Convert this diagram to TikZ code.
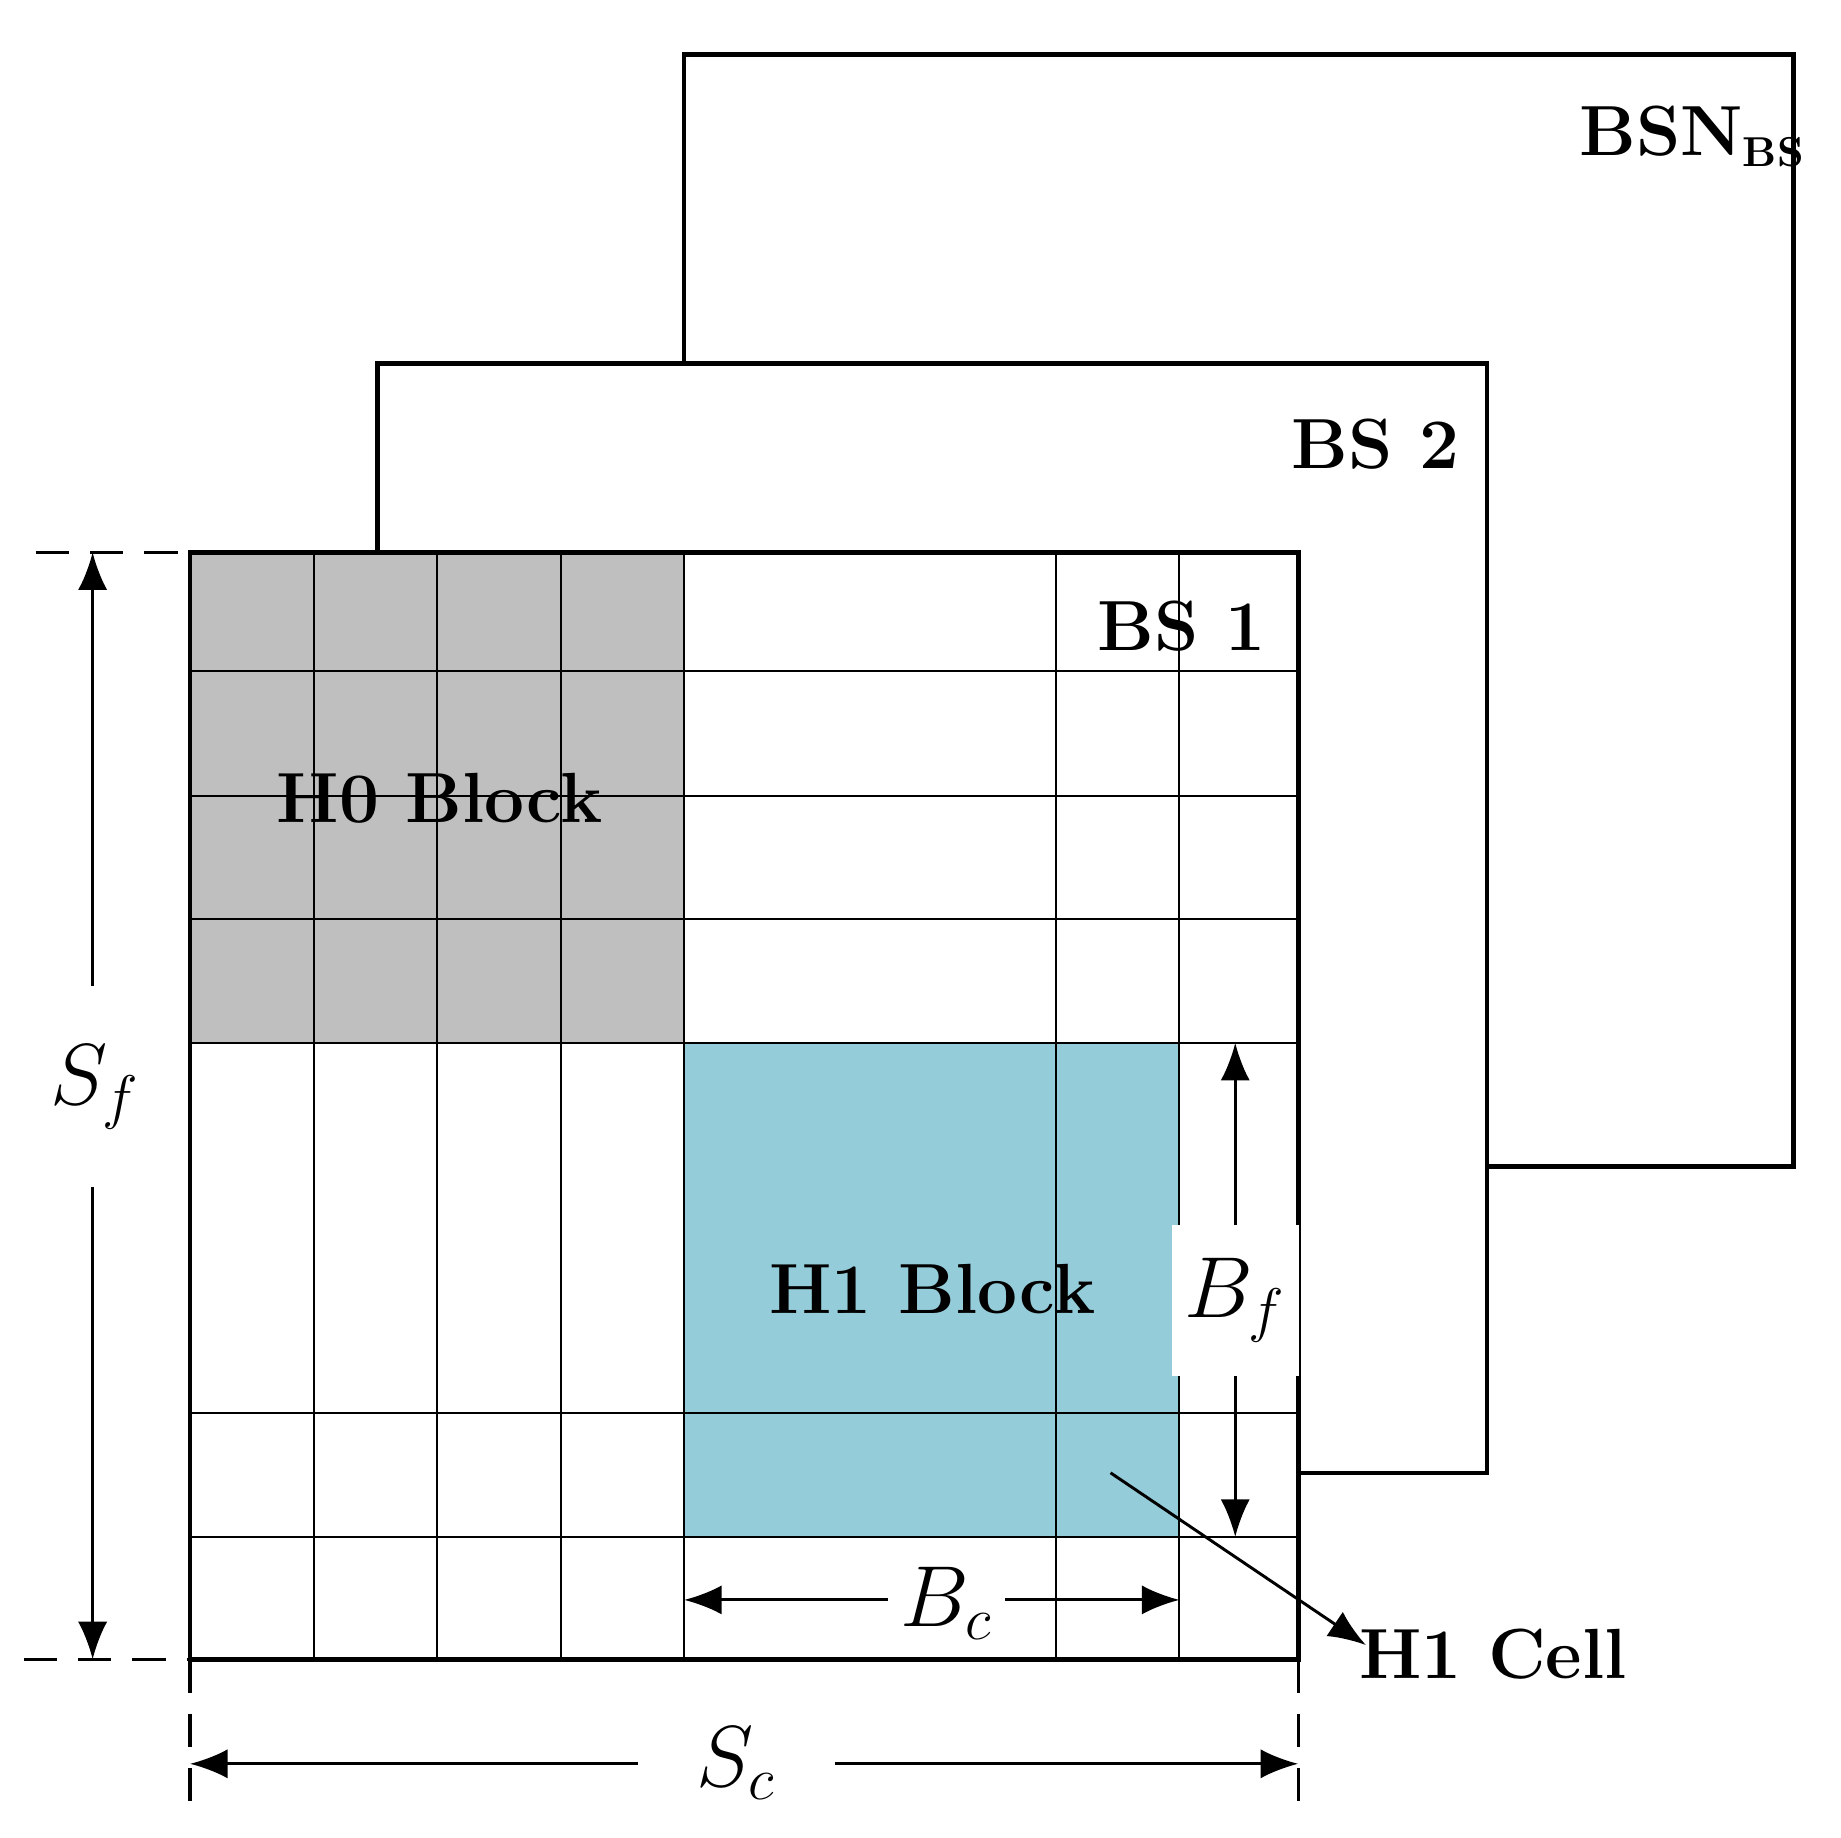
\documentclass[tikz,border=0pt]{standalone}
\usetikzlibrary{arrows.meta}
\definecolor{hblue}{RGB}{148,204,218}
\definecolor{hgray}{RGB}{191,191,191}
\begin{document}
\begin{tikzpicture}[x=0.01cm,y=-0.01cm,
  frame/.style={line width=1.1pt,fill=white},
  grid/.style={line width=0.5pt},
  dim/.style={line width=0.7pt,{Latex[length=9pt,width=7pt]}-{Latex[length=9pt,width=7pt]}},
  lbl/.style={font=\fontsize{17}{20}\selectfont\bfseries},
  mlbl/.style={font=\fontsize{20}{22}\selectfont,fill=white,inner sep=3pt},
  extline/.style={line width=0.8pt,dash pattern=on 8pt off 5pt}]
\useasboundingbox (0,0) rectangle (1550,1547);
\draw[frame] (576,46) rectangle (1510,982);
\node[lbl] (bsn) at (1425,115) {BSN\textsubscript{\fontsize{10}{12}\selectfont BS}};
\draw[frame] (318,306) rectangle (1252,1240);
\node[lbl] (bs2) at (1158,374) {BS 2};
\fill[white] (160,465) rectangle (1093,1397);
\fill[hgray] (160,465) rectangle (576,878);
\fill[hblue] (576,878) rectangle (993,1294);
\foreach \x in {264,368,472,576,889,993} \draw[grid] (\x,465) -- (\x,1397);
\foreach \y in {565,670,774,878,1190,1294} \draw[grid] (160,\y) -- (1093,\y);
\draw[line width=1.1pt] (160,465) rectangle (1093,1397);
\node[lbl] (bs1) at (995,527) {BS 1};
\node[lbl] (h0) at (370,672) {H0 Block};
\node[lbl] (h1) at (785,1085) {H1 Block};
\draw[extline] (30,465) -- (160,465);
\draw[extline] (20,1397) -- (160,1397);
\draw[extline] (160,1397) -- (160,1532);
\draw[extline] (1093,1397) -- (1093,1532);
\coordinate (sft) at (78,465); \coordinate (sfb) at (78,1397);
\draw[dim] (sft) -- (sfb);
\node[mlbl,inner ysep=14pt] (sf) at (80,915) {$S_f$};
\coordinate (scl) at (160,1485); \coordinate (scr) at (1093,1485);
\draw[dim] (scl) -- (scr);
\node[mlbl,inner xsep=14pt] (sc) at (620,1485) {$S_c$};
\coordinate (bft) at (1040,878); \coordinate (bfb) at (1040,1294);
\draw[dim] (bft) -- (bfb);
\node[mlbl,inner ysep=8pt] (bf) at (1040,1095) {$B_f$};
\coordinate (bcl) at (576,1347); \coordinate (bcr) at (993,1347);
\draw[dim] (bcl) -- (bcr);
\node[mlbl] (bc) at (797,1350) {$B_c$};
\coordinate (cellp) at (935,1240);
\node[lbl] (cell) at (1257,1393) {H1 Cell};
\draw[line width=0.7pt,-{Latex[length=9pt,width=7pt]}] (cellp) -- (1150,1385);
\end{tikzpicture}
\end{document}
